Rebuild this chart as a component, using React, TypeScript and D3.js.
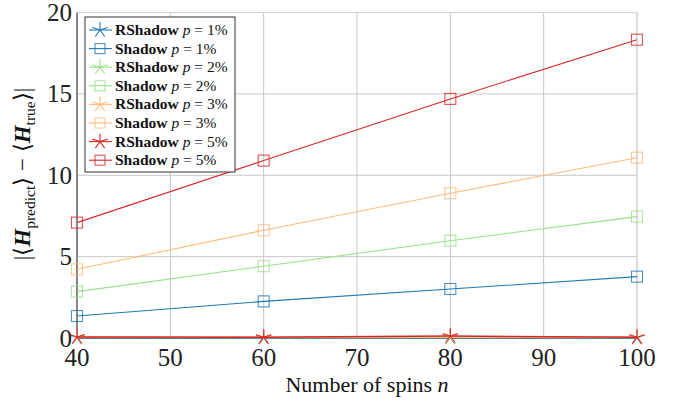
import React from "react";
import * as d3 from "d3";

// Number of spins on the x axis
const spins = [40, 60, 80, 100];

// Shadow estimator error for each noise level
const shadow1 = [1.35, 2.25, 3.01, 3.77];
const shadow2 = [2.85, 4.41, 5.98, 7.46];
const shadow3 = [4.22, 6.62, 8.89, 11.08];
const shadow5 = [7.09, 10.9, 14.69, 18.33];

// Robust shadow estimator error for each noise level
const rshadow1 = [0.03, 0.02, 0.03, 0.02];
const rshadow2 = [0.04, 0.03, 0.05, 0.03];
const rshadow3 = [0.05, 0.04, 0.07, 0.04];
const rshadow5 = [0.06, 0.05, 0.12, 0.05];

const xTicks = [40, 50, 60, 70, 80, 90, 100];
const yTicks = [0, 5, 10, 15, 20];
const noiseLabels = ["1%", "2%", "3%", "5%"];
const colors = ["#1f77b4", "#98df8a", "#ffbb78", "#d62728"];

type Series = { name: string; p: string; values: number[]; color: string; mark: "star" | "square" };

const series: Series[] = [
  { name: "RShadow", p: noiseLabels[0], values: rshadow1, color: colors[0], mark: "star" },
  { name: "Shadow", p: noiseLabels[0], values: shadow1, color: colors[0], mark: "square" },
  { name: "RShadow", p: noiseLabels[1], values: rshadow2, color: colors[1], mark: "star" },
  { name: "Shadow", p: noiseLabels[1], values: shadow2, color: colors[1], mark: "square" },
  { name: "RShadow", p: noiseLabels[2], values: rshadow3, color: colors[2], mark: "star" },
  { name: "Shadow", p: noiseLabels[2], values: shadow3, color: colors[2], mark: "square" },
  { name: "RShadow", p: noiseLabels[3], values: rshadow5, color: colors[3], mark: "star" },
  { name: "Shadow", p: noiseLabels[3], values: shadow5, color: colors[3], mark: "square" },
];

const W = 677;
const H = 403;
const left = 77;
const right = 637;
const top = 12.5;
const bottom = 338;

const serif = "'Liberation Serif', 'Times New Roman', serif";

function Star({ cx, cy, r, color }: { cx: number; cy: number; r: number; color: string }) {
  const rays = d3.range(5).map((i) => {
    const a = ((90 + i * 72) * Math.PI) / 180;
    return (
      <line key={i} x1={cx} y1={cy} x2={cx + r * Math.cos(a)} y2={cy - r * Math.sin(a)} stroke={color} strokeWidth={1.1} />
    );
  });
  return <g>{rays}</g>;
}

function Square({ cx, cy, h, color }: { cx: number; cy: number; h: number; color: string }) {
  return <rect x={cx - h} y={cy - h} width={2 * h} height={2 * h} fill="none" stroke={color} strokeOpacity={0.8} strokeWidth={1.1} />;
}

export default function App() {
  const x = d3.scaleLinear().domain([40, 100]).range([left, right]);
  const y = d3.scaleLinear().domain([0, 20]).range([bottom, top]);
  const line = d3
    .line<number>()
    .x((_, i) => x(spins[i]))
    .y((v) => y(v));

  const legX = 85;
  const legY = 17;
  const legW = 150;
  const legH = 155;
  const rowH = 18.6;

  return (
    <svg width={W} height={H} style={{ position: "absolute", left: 0, top: 0, background: "#fff" }}>
      {/* grid */}
      {xTicks.map((t) => (
        <line key={"gx" + t} x1={x(t)} x2={x(t)} y1={top} y2={bottom} stroke="#c8c8c8" strokeWidth={1} />
      ))}
      {yTicks.map((t) => (
        <line key={"gy" + t} x1={left} x2={right} y1={y(t)} y2={y(t)} stroke="#c8c8c8" strokeWidth={1} />
      ))}
      {/* frame */}
      <line x1={left} x2={right} y1={top} y2={top} stroke="#d0d0d0" strokeWidth={1} />
      <line x1={right} x2={right} y1={top} y2={bottom} stroke="#d8d8d8" strokeWidth={1.5} />
      <line x1={left} x2={left} y1={top} y2={bottom} stroke="#555" strokeWidth={1.3} />
      <line x1={left} x2={right} y1={bottom} y2={bottom} stroke="#555" strokeWidth={1.3} />

      {/* series */}
      {series.map((s, si) => (
        <g key={si}>
          <path d={line(s.values) ?? ""} fill="none" stroke={s.color} strokeWidth={s.mark === "star" ? 1.5 : 1.1} />
          {s.values.map((v, i) =>
            s.mark === "star" ? (
              <Star key={i} cx={x(spins[i])} cy={y(v)} r={8} color={s.color} />
            ) : (
              <Square key={i} cx={x(spins[i])} cy={y(v)} h={5.5} color={s.color} />
            )
          )}
        </g>
      ))}

      {/* tick labels */}
      {xTicks.map((t) => (
        <text key={"tx" + t} x={x(t)} y={bottom + 28} textAnchor="middle" fontFamily={serif} fontSize={25} fill="#222">
          {t}
        </text>
      ))}
      {yTicks.map((t) => (
        <text key={"ty" + t} x={left - 5} y={y(t) + 8.5} textAnchor="end" fontFamily={serif} fontSize={25} fill="#222">
          {t}
        </text>
      ))}

      {/* axis titles */}
      <text x={367} y={392} textAnchor="middle" fontFamily={serif} fontSize={22} fill="#111">
        Number of spins <tspan fontStyle="italic">n</tspan>
      </text>
      <g transform={`translate(30, 174) rotate(-90)`}>
        <text x={0} y={0} textAnchor="middle" fontFamily={serif} fontSize={23} fill="#111">
          <tspan>|⟨</tspan>
          <tspan fontWeight="bold" fontStyle="italic">H</tspan>
          <tspan fontSize={15.5} dy={5}>predict</tspan>
          <tspan dy={-5}>⟩ − ⟨</tspan>
          <tspan fontWeight="bold" fontStyle="italic">H</tspan>
          <tspan fontSize={15.5} dy={5}>true</tspan>
          <tspan dy={-5}>⟩|</tspan>
        </text>
      </g>

      {/* legend */}
      <rect x={legX} y={legY} width={legW} height={legH} fill="#fff" stroke="#333" strokeWidth={1} />
      {series.map((s, i) => {
        const cy = legY + 13 + i * rowH;
        const mx = legX + 15;
        return (
          <g key={"l" + i}>
            <line x1={legX + 4} x2={legX + 27} y1={cy} y2={cy} stroke={s.color} strokeWidth={1.1} />
            {s.mark === "star" ? (
              <Star cx={mx} cy={cy} r={8} color={s.color} />
            ) : (
              <Square cx={mx} cy={cy} h={5} color={s.color} />
            )}
            <text x={legX + 30} y={cy + 5} fontFamily={serif} fontSize={15.5} fill="#111">
              <tspan fontWeight="bold">{s.name}</tspan>
              <tspan fontStyle="italic"> p</tspan>
              <tspan> = {s.p}</tspan>
            </text>
          </g>
        );
      })}
    </svg>
  );
}
